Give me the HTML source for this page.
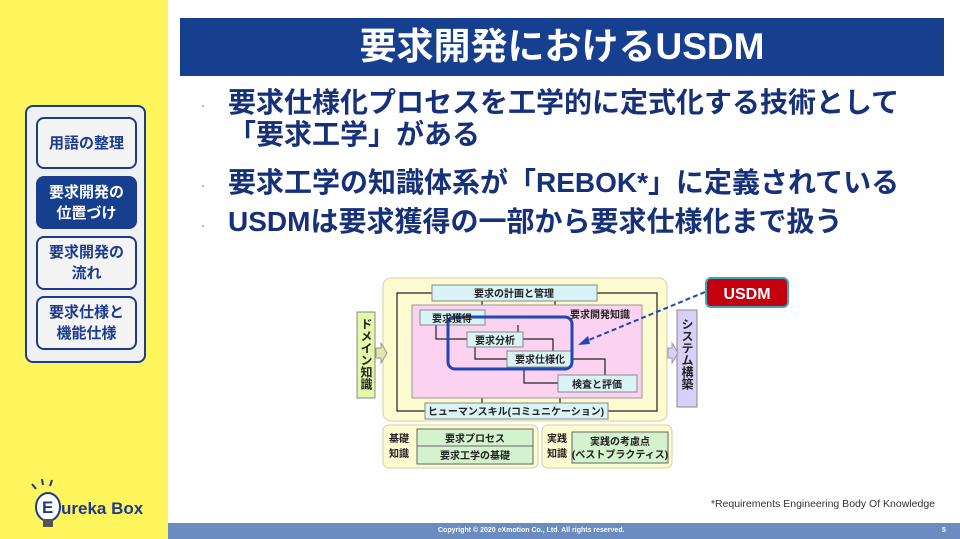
<!DOCTYPE html>
<html><head><meta charset="utf-8"><style>
*{margin:0;padding:0;box-sizing:border-box}
body{width:960px;height:539px;overflow:hidden;background:#fff;position:relative;font-family:"Liberation Sans","Noto Sans CJK JP",sans-serif}
.side{position:absolute;left:0;top:0;width:168px;height:539px;background:#fff65e}
.panel{position:absolute;left:25px;top:105px;width:121px;height:258px;border:2px solid #1c3b8c;border-radius:8px;background:#eef0f2}
.btn{position:absolute;left:9px;width:101px;border:2px solid #1c3b8c;border-radius:8px;background:#f4f4f4;color:#1c3b8c;font-weight:bold;font-size:15px;line-height:21px;text-align:center;display:flex;align-items:center;justify-content:center}
.btn.on{background:#173f8f;color:#fff}
.title{position:absolute;left:180px;top:18px;width:764px;height:58px;background:#173f8f;color:#fff;font-size:37px;font-weight:bold;text-align:center;line-height:58px}
.b{position:absolute;left:228px;color:#16307a;font-weight:bold;font-size:28px;line-height:32px;white-space:nowrap}
.dot{position:absolute;left:198px;color:#aaa;font-size:10px}
.foot{position:absolute;left:168px;top:523px;width:792px;height:16px;background:#6a8cc0;color:#fff;font-size:7px;font-weight:bold;line-height:16px}
</style></head><body>
<div class="side"></div>
<div class="panel">
<div class="btn" style="top:10px;height:52px">用語の整理</div>
<div class="btn on" style="top:69px;height:53px">要求開発の<br>位置づけ</div>
<div class="btn" style="top:129px;height:54px">要求開発の<br>流れ</div>
<div class="btn" style="top:189px;height:54px">要求仕様と<br>機能仕様</div>
</div>
<svg style="position:absolute;left:20px;top:470px" width="130" height="60">
<g stroke="#1c3b8c" stroke-width="2"><line x1="12" y1="14" x2="16" y2="19"/><line x1="22" y1="9" x2="23" y2="15"/><line x1="32" y1="10" x2="30" y2="16"/></g>
<ellipse cx="28" cy="37" rx="12" ry="14" fill="#fff" stroke="#1c3b8c" stroke-width="2"/>
<rect x="23" y="49" width="10" height="8" fill="#555"/>
<text x="22" y="43" font-size="17" font-weight="bold" fill="#1c3b8c" font-family="Liberation Sans">E</text>
<text x="41" y="44" font-size="17" font-weight="bold" fill="#1c3b8c" font-family="Liberation Sans">ureka Box</text>
</svg>
<div class="title">要求開発におけるUSDM</div>
<div class="dot" style="top:98px">・</div><div class="dot" style="top:178px">・</div><div class="dot" style="top:218px">・</div>
<div class="b" style="top:87px">要求仕様化プロセスを工学的に定式化する技術として</div>
<div class="b" style="top:119px">「要求工学」がある</div>
<div class="b" style="top:167px">要求工学の知識体系が「REBOK*」に定義されている</div>
<div class="b" style="top:206px">USDMは要求獲得の一部から要求仕様化まで扱う</div>
<svg style="position:absolute;left:0;top:0" width="960" height="539" font-family="Liberation Sans,Noto Sans CJK JP,sans-serif" font-weight="bold">
<rect x="383" y="278" width="284" height="143" rx="8" fill="#fdfbd0" stroke="#d8d0a0"/>
<rect x="383" y="425" width="155" height="43" rx="6" fill="#fdfbd0" stroke="#d8d0a0"/>
<rect x="542" y="425" width="130" height="43" rx="6" fill="#fdfbd0" stroke="#d8d0a0"/>
<g fill="none" stroke="#222" stroke-width="1.2">
<polyline points="432,293 397,293 397,411 425,411"/>
<polyline points="597,293 657,293 657,411 608,411"/>
<line x1="482" y1="301" x2="482" y2="305"/><line x1="555" y1="301" x2="555" y2="305"/>
<line x1="482" y1="398" x2="482" y2="403"/><line x1="560" y1="398" x2="560" y2="403"/>
</g>
<rect x="412" y="305" width="230" height="93" fill="#fbd3f0" stroke="#999"/>
<g fill="none" stroke="#222" stroke-width="1.2">
<polyline points="436,325 436,339 467,339"/>
<polyline points="518,325 518,339"/>
<polyline points="523,339 553,339 553,351"/>
<polyline points="475,347 475,359 507,359"/>
<polyline points="572,359 605,359 605,375"/>
<polyline points="524,367 524,383 558,383"/>
</g>
<g fill="#d9f3f7" stroke="#888">
<rect x="432" y="285" width="165" height="16"/>
<rect x="420" y="310" width="65" height="15"/>
<rect x="467" y="332" width="56" height="15"/>
<rect x="507" y="351" width="65" height="16"/>
<rect x="558" y="375" width="79" height="17"/>
<rect x="425" y="403" width="183" height="16"/>
</g>
<g fill="#d5f2cf" stroke="#666">
<rect x="417" y="429" width="116" height="17"/><rect x="417" y="446" width="116" height="18"/>
<rect x="572" y="432" width="96" height="31"/>
</g>
<rect x="357" y="312" width="18" height="86" fill="#e3f8a8" stroke="#888"/>
<rect x="677" y="310" width="20" height="97" fill="#d8d0f8" stroke="#888"/>
<polygon points="376,348 381,348 381,343 387,353 381,363 381,358 376,358" fill="#e0e8b0" stroke="#999"/>
<polygon points="668,348 672,348 672,343 678,353 672,363 672,358 668,358" fill="#d8d0f8" stroke="#999"/>
<rect x="448" y="317" width="124" height="52" rx="7" fill="none" stroke="#1f47b8" stroke-width="3"/>
<line x1="705" y1="292" x2="584" y2="342" stroke="#1f47b8" stroke-width="2" stroke-dasharray="5,3"/>
<polygon points="578,345 588,336 590,344" fill="#1f47b8"/>
<rect x="706" y="278" width="82" height="29" rx="5" fill="#c4000f" stroke="#3aa8b8" stroke-width="2"/>
<text x="747" y="299" font-size="16" fill="#fff" text-anchor="middle">USDM</text>
<g font-size="10" fill="#222" text-anchor="middle">
<text x="514" y="297">要求の計画と管理</text>
<text x="452" y="322">要求獲得</text>
<text x="495" y="344">要求分析</text>
<text x="540" y="363">要求仕様化</text>
<text x="597" y="388">検査と評価</text>
<text x="516" y="415">ヒューマンスキル(コミュニケーション)</text>
<text x="600" y="318">要求開発知識</text>
<text x="475" y="442">要求プロセス</text>
<text x="475" y="459">要求工学の基礎</text>
<text x="620" y="445">実践の考慮点</text>
<text x="620" y="458">(ベストプラクティス)</text>
<text x="399" y="442">基礎</text><text x="399" y="457">知識</text>
<text x="557" y="442">実践</text><text x="557" y="457">知識</text>
</g>
<text font-size="12" fill="#222" writing-mode="tb" x="366" y="318">ドメイン知識</text>
<text font-size="12" fill="#222" writing-mode="tb" x="687" y="318">システム構築</text>
<text x="935" y="507" font-size="10.5" font-weight="normal" fill="#333" text-anchor="end">*Requirements Engineering Body Of Knowledge</text>
</svg>
<div class="foot"><span style="position:absolute;left:270px">Copyright © 2020 eXmotion Co., Ltd. All rights reserved.</span><span style="position:absolute;left:774px">5</span></div>
</body></html>
